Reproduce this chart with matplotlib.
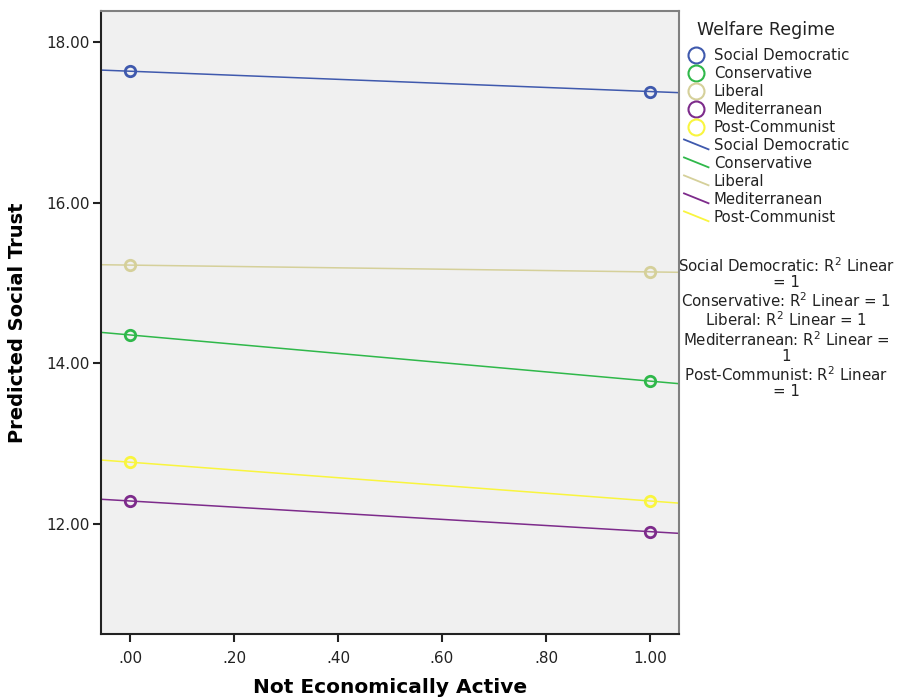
import matplotlib
matplotlib.use("Agg")
import matplotlib.pyplot as plt
from matplotlib.lines import Line2D
from matplotlib.legend_handler import HandlerLine2D
import numpy as np

# data
regimes = ["Social Democratic", "Conservative", "Liberal", "Mediterranean", "Post-Communist"]
x_vals = [0.0, 1.0]
trust_at_0 = [17.64, 14.355, 15.225, 12.287, 12.77]
trust_at_1 = [17.387, 13.78, 15.14, 11.905, 12.287]
colors = ["#3f59ad", "#2fb84a", "#d5d09a", "#7d2b8b", "#f9f53e"]

x_ticks = [0.0, 0.2, 0.4, 0.6, 0.8, 1.0]
x_ticklabels = [".00", ".20", ".40", ".60", ".80", "1.00"]
y_ticks = [12.0, 14.0, 16.0, 18.0]
y_ticklabels = ["12.00", "14.00", "16.00", "18.00"]
r2_text = ("Social Democratic: R$^2$ Linear\n= 1\n"
           "Conservative: R$^2$ Linear = 1\n"
           "Liberal: R$^2$ Linear = 1\n"
           "Mediterranean: R$^2$ Linear =\n1\n"
           "Post-Communist: R$^2$ Linear\n= 1")

XLIM = (-0.0558, 1.0558)
YLIM = (10.63, 18.39)


class DiagonalLine(HandlerLine2D):
    # legend line drawn as a short diagonal stroke, like the SPSS output
    def create_artists(self, legend, orig_handle, xdescent, ydescent,
                       width, height, fontsize, trans):
        line = Line2D([0, width], [height * 1.0, height * 0.05],
                      color=orig_handle.get_color(), lw=orig_handle.get_linewidth())
        line.set_transform(trans)
        return [line]


fig = plt.figure(figsize=(8.97, 6.97), dpi=100)
ax = fig.add_axes([101 / 897, 1 - 634 / 697, 578 / 897, 623 / 697])
ax.set_facecolor("#f0f0f0")

xs = np.array(XLIM)
for name, y0, y1, c in zip(regimes, trust_at_0, trust_at_1, colors):
    slope = (y1 - y0) / (x_vals[1] - x_vals[0])
    ax.plot(xs, y0 + slope * (xs - x_vals[0]), color=c, lw=1.1, zorder=2)
    ax.plot(x_vals, [y0, y1], "o", ms=7.5, mfc="none", mec=c, mew=2.0, zorder=3)

ax.set_xlim(*XLIM)
ax.set_ylim(*YLIM)
ax.set_xticks(x_ticks)
ax.set_xticklabels(x_ticklabels)
ax.set_yticks(y_ticks)
ax.set_yticklabels(y_ticklabels)
ax.tick_params(axis="both", direction="out", length=6, width=1.5, color="#222222",
               labelsize=11, labelcolor="#222222", pad=2)
ax.tick_params(axis="x", pad=6)
for side in ["left", "bottom"]:
    ax.spines[side].set_linewidth(1.5)
    ax.spines[side].set_color("#222222")
for side in ["top", "right"]:
    ax.spines[side].set_linewidth(1.5)
    ax.spines[side].set_color("#808080")

ax.set_xlabel("Not Economically Active", fontsize=14.5, fontweight="bold", labelpad=9)
ax.set_ylabel("Predicted Social Trust", fontsize=14, fontweight="bold", labelpad=14)

# legend: markers then fit lines
handles = [Line2D([], [], ls="none", marker="o", ms=11.5, mfc="none", mec=c, mew=1.5)
           for c in colors]
handles += [Line2D([], [], color=c, lw=1.3) for c in colors]
labels = regimes + regimes
hm = {h: DiagonalLine() for h in handles[5:]}
leg = fig.legend(handles, labels, loc="upper left", bbox_to_anchor=(684 / 897, 1 - 48 / 697),
                 frameon=False, fontsize=10.7,
                 handlelength=1.65, handletextpad=0.35, labelspacing=0.2, borderaxespad=0,
                 borderpad=0, handler_map=hm)
for t in leg.get_texts():
    t.set_color("#222222")
fig.text(697 / 897, 1 - 30 / 697, "Welfare Regime", ha="left", va="center",
         fontsize=12.5, color="#222222")

fig.text(786 / 897, 1 - 256 / 697, r2_text, ha="center", va="top", fontsize=10.8,
         color="#222222", linespacing=1.05)

fig.savefig("out.png", dpi=100)
